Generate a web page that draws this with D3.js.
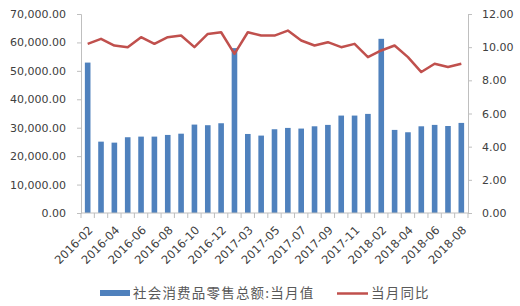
<!DOCTYPE html>
<html><head><meta charset="utf-8">
<script src="https://cdn.jsdelivr.net/npm/d3@7"></script>
<style>
html,body{margin:0;padding:0;background:#fff;}
svg{display:block;}
</style></head>
<body>
<svg id="chart" width="520" height="306"></svg>
<script>
const categories = ["2016-02","2016-03","2016-04","2016-05","2016-06","2016-07","2016-08","2016-09","2016-10","2016-11","2016-12",
"2017-02","2017-03","2017-04","2017-05","2017-06","2017-07","2017-08","2017-09","2017-10","2017-11","2017-12",
"2018-02","2018-03","2018-04","2018-05","2018-06","2018-07","2018-08"];
const retailValues = [52910,25100,24750,26650,26870,26870,27460,27900,31100,30880,31570,
58000,27800,27230,29460,29930,29700,30500,30990,34270,34270,34860,
61270,29230,28400,30500,30990,30600,31690];
const yoyValues = [10.2,10.5,10.1,10.0,10.6,10.2,10.6,10.7,10.0,10.8,10.9,
9.6,10.9,10.7,10.7,11.0,10.4,10.1,10.3,10.0,10.2,9.4,
9.8,10.1,9.4,8.5,9.0,8.8,9.0];
const leftTicks = [0,10000,20000,30000,40000,50000,60000,70000];
const rightTicks = [0,2,4,6,8,10,12];
const seriesNames = ["社会消费品零售总额:当月值","当月同比"];

const svg = d3.select("#chart");
const m = {left:81, right:52, top:14, bottom:93};
const W = 520, H = 306;
const x = d3.scaleBand().domain(categories).range([m.left, W - m.right]).paddingInner(0.58).paddingOuter(0.29);
const xb = d3.scaleBand().domain(categories).range([m.left, W - m.right]);
const yL = d3.scaleLinear().domain([0,70000]).range([H - m.bottom, m.top]);
const yR = d3.scaleLinear().domain([0,12]).range([H - m.bottom, m.top]);
const font = "'DejaVu Sans', sans-serif";
const txt = "#404040", axisCol = "#bfbfbf";

// bars
svg.append("g").selectAll("rect").data(retailValues).join("rect")
  .attr("x", (d,i)=>x(categories[i]))
  .attr("width", x.bandwidth())
  .attr("y", d=>yL(d))
  .attr("height", d=>yL(0)-yL(d))
  .attr("fill", "#4f81bd");

// left axis
const gL = svg.append("g").attr("transform", `translate(${m.left},0)`)
  .call(d3.axisLeft(yL).tickValues(leftTicks).tickSize(4).tickPadding(11).tickFormat(d3.format(",.2f")));
gL.selectAll("path,line").attr("stroke", axisCol);
gL.selectAll("text").attr("fill", txt).style("font-family", font).style("font-size","11px");

// right axis
const gR = svg.append("g").attr("transform", `translate(${W - m.right},0)`)
  .call(d3.axisRight(yR).tickValues(rightTicks).tickSize(4).tickPadding(10).tickFormat(d3.format(".2f")));
gR.selectAll("path,line").attr("stroke", axisCol);
gR.selectAll("text").attr("fill", txt).style("font-family", font).style("font-size","11px");

// x axis
const gX = svg.append("g").attr("transform", `translate(0,${H - m.bottom})`);
gX.append("line").attr("x1", m.left).attr("x2", W - m.right).attr("stroke", axisCol);
const bounds = categories.map(c=>xb(c)).concat([W - m.right]);
gX.selectAll("line.tk").data(bounds).join("line").attr("class","tk")
  .attr("x1", d=>d).attr("x2", d=>d).attr("y1",0).attr("y2",5).attr("stroke", axisCol);
gX.selectAll("text").data(categories.filter((c,i)=>i%2===0)).join("text")
  .attr("transform", d=>`translate(${xb(d)+xb.bandwidth()/2+3},15) rotate(-45)`)
  .attr("text-anchor","end").attr("dy","0.35em")
  .attr("fill", txt).style("font-family", font).style("font-size","11.5px")
  .text(d=>d);

// line
const line = d3.line().x((d,i)=>xb(categories[i])+xb.bandwidth()/2).y(d=>yR(d));
svg.append("path").datum(yoyValues).attr("d", line)
  .attr("fill","none").attr("stroke","#c0504d").attr("stroke-width",2.5).attr("stroke-linejoin","round");

// legend
const lgCol = "#595959";
const lg = svg.append("g");
lg.append("rect").attr("x",100).attr("y",290).attr("width",30).attr("height",6).attr("fill","#4f81bd");
lg.append("text").attr("x",133).attr("y",293).attr("dy","0.35em").attr("fill",lgCol)
  .style("font-family","'Noto Sans CJK SC', sans-serif").style("font-size","13.5px").style("letter-spacing","1.2px").text(seriesNames[0]);
lg.append("line").attr("x1",337).attr("x2",368).attr("y1",293.5).attr("y2",293.5).attr("stroke","#c0504d").attr("stroke-width",2.5);
lg.append("text").attr("x",371).attr("y",293).attr("dy","0.35em").attr("fill",lgCol)
  .style("font-family","'Noto Sans CJK SC', sans-serif").style("font-size","13.5px").style("letter-spacing","1.2px").text(seriesNames[1]);
</script>
</body></html>
